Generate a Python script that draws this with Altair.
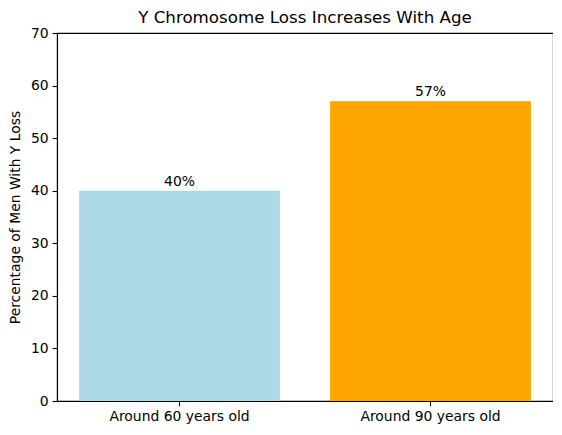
import altair as alt
import pandas as pd

# Data
categories = ["Around 60 years old", "Around 90 years old"]
percentages = [40, 57]
labels = ["40%", "57%"]
bar_colors = ["#ADD8E6", "#FFA500"]

df = pd.DataFrame({"group": categories, "pct": percentages, "label": labels})

FONT = "DejaVu Sans"
SMALL = 13.9   # 10pt at 100 dpi
BIG = 16.7     # 12pt at 100 dpi

base = alt.Chart(df).encode(
    x=alt.X(
        "group:N",
        sort=categories,
        title=None,
        scale=alt.Scale(paddingInner=0.2, paddingOuter=0.088),
        axis=alt.Axis(labelAngle=0, labelFontSize=SMALL, labelPadding=4,
                      tickSize=4.9, tickColor="black", domainColor="black",
                      tickWidth=1.1, domainWidth=1.1,
                      labelColor="black", labelFont=FONT),
    ),
    y=alt.Y(
        "pct:Q",
        title="Percentage of Men With Y Loss",
        scale=alt.Scale(domain=[0, 70], nice=False),
        axis=alt.Axis(values=list(range(0, 71, 10)), grid=False, labelFontSize=SMALL,
                      titleFontSize=SMALL, titleFontWeight="normal", titlePadding=8,
                      tickSize=4.9, tickColor="black", domainColor="black",
                      tickWidth=1.1, domainWidth=1.1,
                      labelColor="black", titleColor="black", labelPadding=4,
                      labelFont=FONT, titleFont=FONT),
    ),
)

bars = base.mark_bar().encode(
    color=alt.Color("group:N", scale=alt.Scale(domain=categories, range=bar_colors),
                    legend=None)
)

text = base.mark_text(baseline="bottom", dy=-2, fontSize=SMALL, font=FONT,
                      color="black").encode(text="label:N")

chart = (bars + text).properties(
    width=496,
    height=368,
    autosize=alt.AutoSizeParams(type="none"),
    padding={"left": 49, "top": 25, "right": 0, "bottom": 26},
    title=alt.TitleParams("Y Chromosome Loss Increases With Age", fontSize=BIG,
                          fontWeight="normal", font=FONT, color="black",
                          frame="group", offset=5, dy=6),
).configure_view(stroke="black", strokeWidth=1.1)

chart.save("out.html", embed_options={"renderer": "svg", "actions": False})
